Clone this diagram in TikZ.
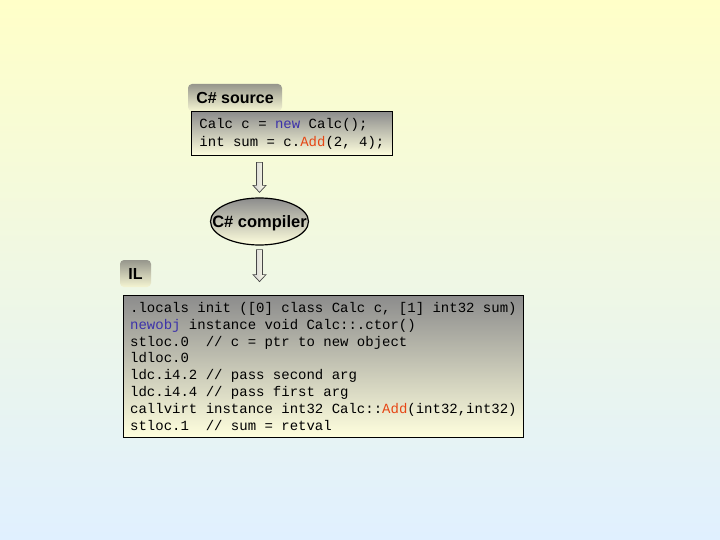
\documentclass[tikz,border=0pt]{standalone}
\usepackage{fontspec}
\setmainfont{Liberation Sans}
\setmonofont{Liberation Mono}
\usetikzlibrary{shapes.geometric,calc}
\definecolor{bgtop}{RGB}{255,255,200}
\definecolor{bgbot}{RGB}{224,240,255}
\definecolor{boxtop}{RGB}{140,140,140}
\definecolor{boxmid}{RGB}{208,208,188}
\definecolor{boxbot}{RGB}{255,255,222}
\definecolor{tabtop}{RGB}{150,150,140}
\definecolor{tabbot}{RGB}{245,245,210}
\definecolor{kwblue}{RGB}{60,50,170}
\definecolor{addred}{RGB}{230,70,20}
\newcommand\myblkarrow[2]{%
  \path[blockarrow] ($(#1)+(-3,0)$) -- ($(#2)+(-3,-7)$) -- ($(#2)+(-6.5,-7)$) -- (#2)
    -- ($(#2)+(6.5,-7)$) -- ($(#2)+(3,-7)$) -- ($(#1)+(3,0)$) -- cycle;}
\begin{document}
\begin{tikzpicture}[x=1pt,y=-1pt,
  codebox/.style={draw=black, line width=0.8pt, top color=boxtop, middle color=boxmid, bottom color=boxbot,
    anchor=north west, inner sep=0pt, align=left},
  tabbox/.style={top color=tabtop, bottom color=tabbot, rounded corners=4pt, inner sep=0pt,
    font=\bfseries\fontsize{16}{18}\selectfont},
  blockarrow/.style={draw=gray!55!black, line width=0.7pt, line join=miter,
    left color=gray!35, right color=white!92!yellow},
  compiler/.style={ellipse, draw=black, line width=1.2pt,
    top color=boxtop, middle color=boxmid, bottom color=boxbot, minimum width=98pt, minimum height=47pt,
    inner sep=0pt, text depth=0pt, font=\bfseries\fontsize{16.5}{18}\selectfont}]
\useasboundingbox (0,0) rectangle (720,540);
\shade[top color=bgtop, bottom color=bgbot] (0,0) rectangle (720,540);

\node[tabbox, minimum width=94pt, minimum height=27pt] (srctab) at (235,97.5) {C\# source};
\node[codebox, minimum width=201pt, minimum height=44pt,
  font=\ttfamily\fontsize{14}{18}\selectfont] (src) at (191,111)
  {Calc c = \textcolor{kwblue}{new} Calc();\\int sum = c.\textcolor{addred}{Add}(2, 4);};

\node[compiler] (comp) at (259.5,221.5) {\makebox[0pt]{C\# compiler}};

\coordinate (a1t) at ($(comp.north)+(0,-35)$);
\coordinate (a1b) at ($(comp.north)+(0,-5)$);
\coordinate (a2t) at ($(comp.south)+(0,4)$);
\coordinate (a2b) at ($(comp.south)+(0,36)$);
\myblkarrow{a1t}{a1b}
\myblkarrow{a2t}{a2b}

\node[tabbox, minimum width=31pt, minimum height=27pt] (iltab) at (135.5,273.5) {IL};
\node[codebox, minimum width=400pt, minimum height=142pt,
  font=\ttfamily\fontsize{14}{16.9}\selectfont] (il) at (123,295)
  {.locals init ([0] class Calc c, [1] int32 sum)\\
   \textcolor{kwblue}{newobj} instance void Calc::.ctor()\\
   stloc.0~~// c = ptr to new object\\
   ldloc.0\\
   ldc.i4.2 // pass second arg\\
   ldc.i4.4 // pass first arg\\
   callvirt instance int32 Calc::\textcolor{addred}{Add}(int32,int32)\\
   stloc.1~~// sum = retval};
\end{tikzpicture}
\end{document}
